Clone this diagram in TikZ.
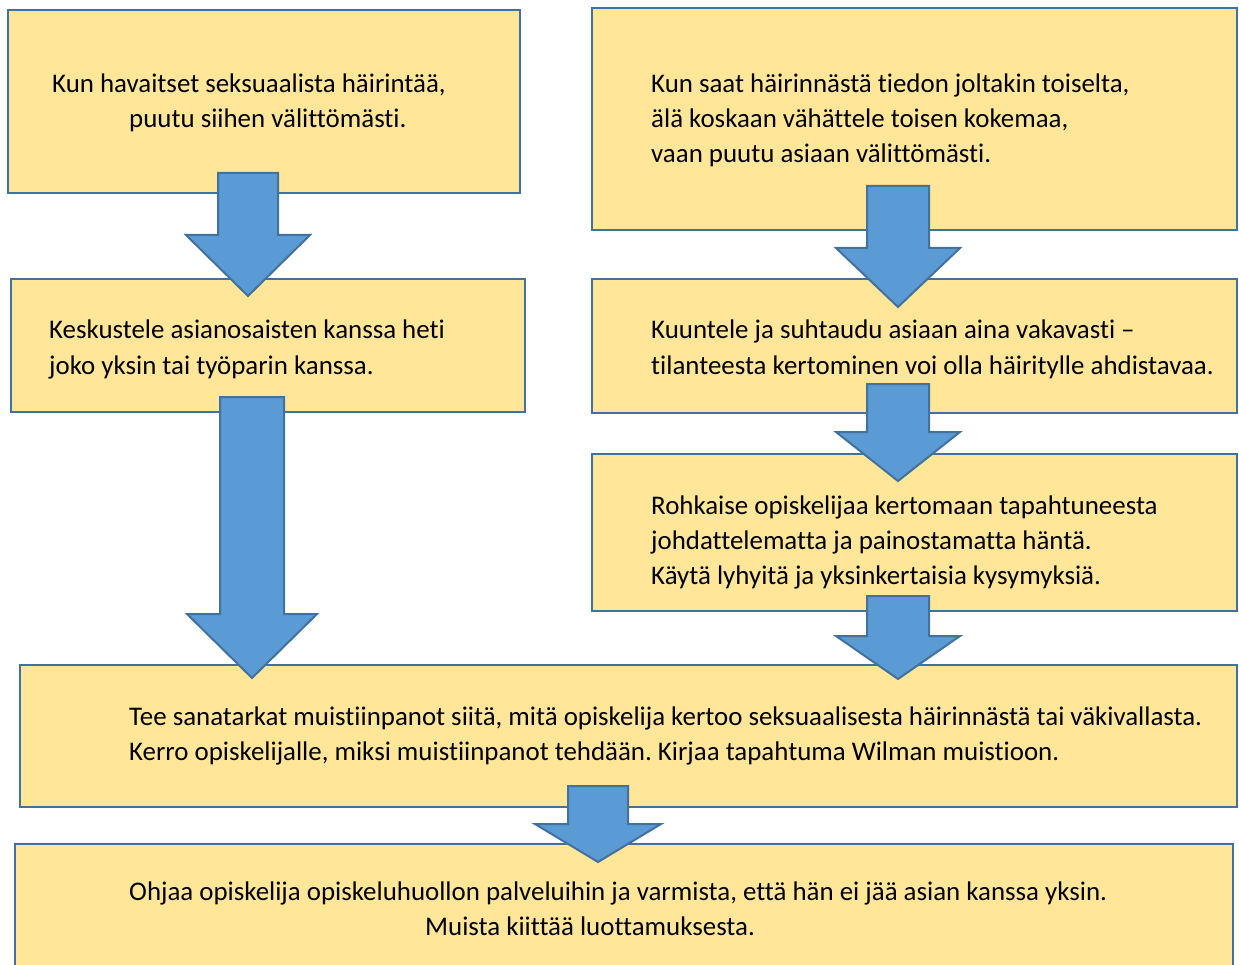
\documentclass[tikz,border=0pt]{standalone}
\usepackage{fontspec}
\setmainfont{Carlito}[Ligatures={NoCommon}]
\frenchspacing
\definecolor{boxfill}{HTML}{FFE699}
\definecolor{edgeblue}{HTML}{41719C}
\definecolor{arrowfill}{HTML}{5B9BD5}
\newcommand\blockarr[7]{% name, xc, ytop, yhead, ytip, halfshaft, halfhead
  \coordinate (#1) at (#2,#5);
  \draw[arrowstyle] (#2-#6,#3) -- (#2+#6,#3) -- (#2+#6,#4) -- (#2+#7,#4) -- (#1) -- (#2-#7,#4) -- (#2-#6,#4) -- cycle;}
\begin{document}
\begin{tikzpicture}[x=1pt,y=-1pt,
  boxstyle/.style={draw=edgeblue,fill=boxfill,line width=2pt},
  arrowstyle/.style={draw=edgeblue,fill=arrowfill,line width=2pt,line join=miter},
  txt/.style={anchor=base west,inner sep=0pt,font=\fontsize{26.9}{35}\selectfont\frenchspacing}]
\useasboundingbox (0,0) rectangle (1239,965);
\clip (0,0) rectangle (1239,965);
% boxes
\draw[boxstyle] (8,10) rectangle (520,193) coordinate (b1);
\draw[boxstyle] (592,8) rectangle (1237,230) coordinate (b2);
\draw[boxstyle] (11,279) rectangle (525,412) coordinate (b3);
\draw[boxstyle] (592,279) rectangle (1237,413) coordinate (b4);
\draw[boxstyle] (592,454) rectangle (1237,611) coordinate (b5);
\draw[boxstyle] (20,665) rectangle (1237,807) coordinate (b6);
\draw[boxstyle] (15,844) rectangle (1233,990) coordinate (b7);
% arrows
\blockarr{a1}{248}{173}{235}{296}{30}{62}
\blockarr{a2}{898}{186}{248}{307}{31}{62}
\blockarr{a3}{252}{397}{614}{678}{32}{65}
\blockarr{a4}{898}{384}{432}{481}{31}{62}
\blockarr{a5}{898}{596}{636}{679}{31}{62}
\blockarr{a6}{598}{786}{824}{862}{30}{63}
% texts
\node[txt] (t1a) at (52,93) {Kun havaitset seksuaalista häirintää,};
\node[txt] (t1b) at (129,128) {puutu siihen välittömästi.};
\node[txt] (t2a) at (651,93) {Kun saat häirinnästä tiedon joltakin toiselta,};
\node[txt] (t2b) at (651,128) {älä koskaan vähättele toisen kokemaa,};
\node[txt] (t2c) at (651,163) {vaan puutu asiaan välittömästi.};
\node[txt] (t3a) at (49,339) {Keskustele asianosaisten kanssa heti};
\node[txt] (t3b) at (49,374) {joko yksin tai työparin kanssa.};
\node[txt] (t4a) at (651,339) {Kuuntele ja suhtaudu asiaan aina vakavasti –};
\node[txt] (t4b) at (651,374) {tilanteesta kertominen voi olla häiritylle ahdistavaa.};
\node[txt] (t5a) at (651,514) {Rohkaise opiskelijaa kertomaan tapahtuneesta};
\node[txt] (t5b) at (651,549) {johdattelematta ja painostamatta häntä.};
\node[txt] (t5c) at (651,584) {Käytä lyhyitä ja yksinkertaisia kysymyksiä.};
\node[txt] (t6a) at (129,725) {Tee sanatarkat muistiinpanot siitä, mitä opiskelija kertoo seksuaalisesta häirinnästä tai väkivallasta.};
\node[txt] (t6b) at (129,760) {Kerro opiskelijalle, miksi muistiinpanot tehdään. Kirjaa tapahtuma Wilman muistioon.};
\node[txt] (t7a) at (129,900) {Ohjaa opiskelija opiskeluhuollon palveluihin ja varmista, että hän ei jää asian kanssa yksin.};
\node[txt] (t7b) at (425,935) {Muista kiittää luottamuksesta.};
\end{tikzpicture}
\end{document}
